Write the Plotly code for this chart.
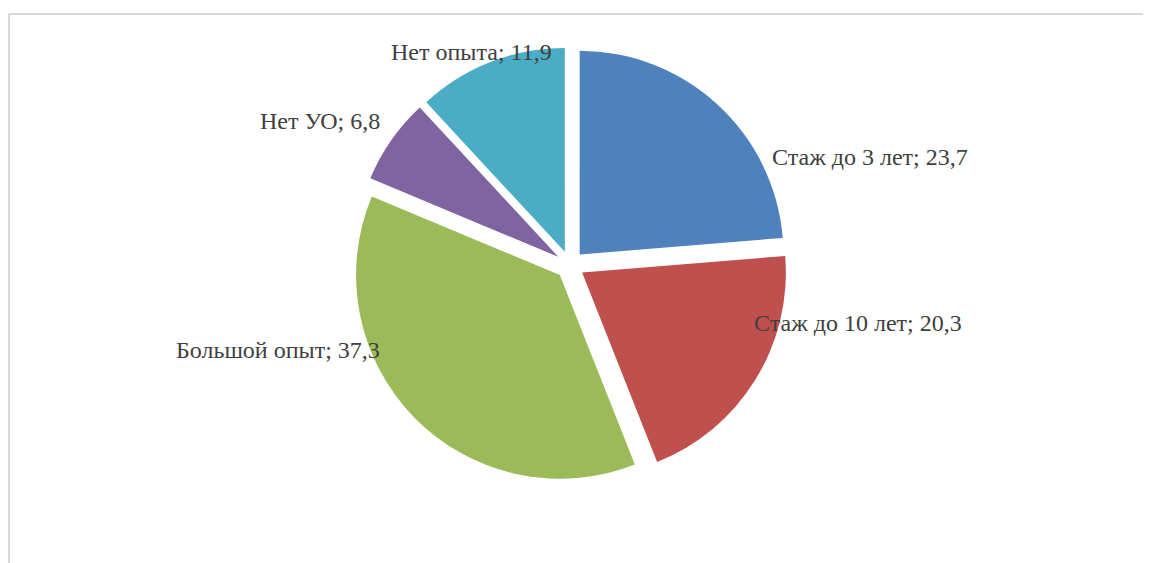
import plotly.graph_objects as go

categories = ["Стаж до 3 лет", "Стаж до 10 лет", "Большой опыт", "Нет УО", "Нет опыта"]
values = [23.7, 20.3, 37.3, 6.8, 11.9]
colors = ["#4F81BD", "#C0504D", "#9BBB59", "#8064A2", "#4BACC6"]

W, H = 1151, 563
OFF = 8  # page body margin

# label centre positions (pixels from top-left of the page)
label_px = [(870, 157), (858, 323), (278, 350), (320, 121), (471, 52)]

pie_left, pie_right = 0, 1124
pie_top, pie_bottom = 47 - OFF, 483 - OFF

fig = go.Figure(go.Pie(
    labels=categories,
    values=values,
    sort=False,
    direction="clockwise",
    rotation=0,
    pull=0.07,
    marker=dict(colors=colors, line=dict(width=0)),
    textinfo="none",
    hoverinfo="label+value",
    showlegend=False,
    domain=dict(x=[pie_left / W, pie_right / W], y=[1 - pie_bottom / H, 1 - pie_top / H]),
))

def fmt(v):
    return f"{v:.1f}".replace(".", ",")

annotations = []
for cat, val, (px, py) in zip(categories, values, label_px):
    annotations.append(dict(
        xref="paper", yref="paper", x=(px - OFF) / W, y=1 - (py - OFF) / H,
        text=f"{cat}; {fmt(val)}", showarrow=False,
        xanchor="center", yanchor="middle",
        font=dict(family="Liberation Serif, Times New Roman, serif", size=24, color="#404040"),
    ))

fx, fy = 1, 6
fig.update_layout(
    width=W, height=H,
    margin=dict(l=0, r=0, t=0, b=0, autoexpand=False),
    paper_bgcolor="white",
    plot_bgcolor="white",
    annotations=annotations,
    shapes=[
        dict(type="line", xref="paper", yref="paper", x0=fx / W, x1=1, y0=1 - fy / H, y1=1 - fy / H,
             line=dict(color="#d9d9d9", width=2)),
        dict(type="line", xref="paper", yref="paper", x0=fx / W, x1=fx / W, y0=0, y1=1 - fy / H,
             line=dict(color="#d9d9d9", width=2)),
    ],
)

fig.write_html("out.html")
